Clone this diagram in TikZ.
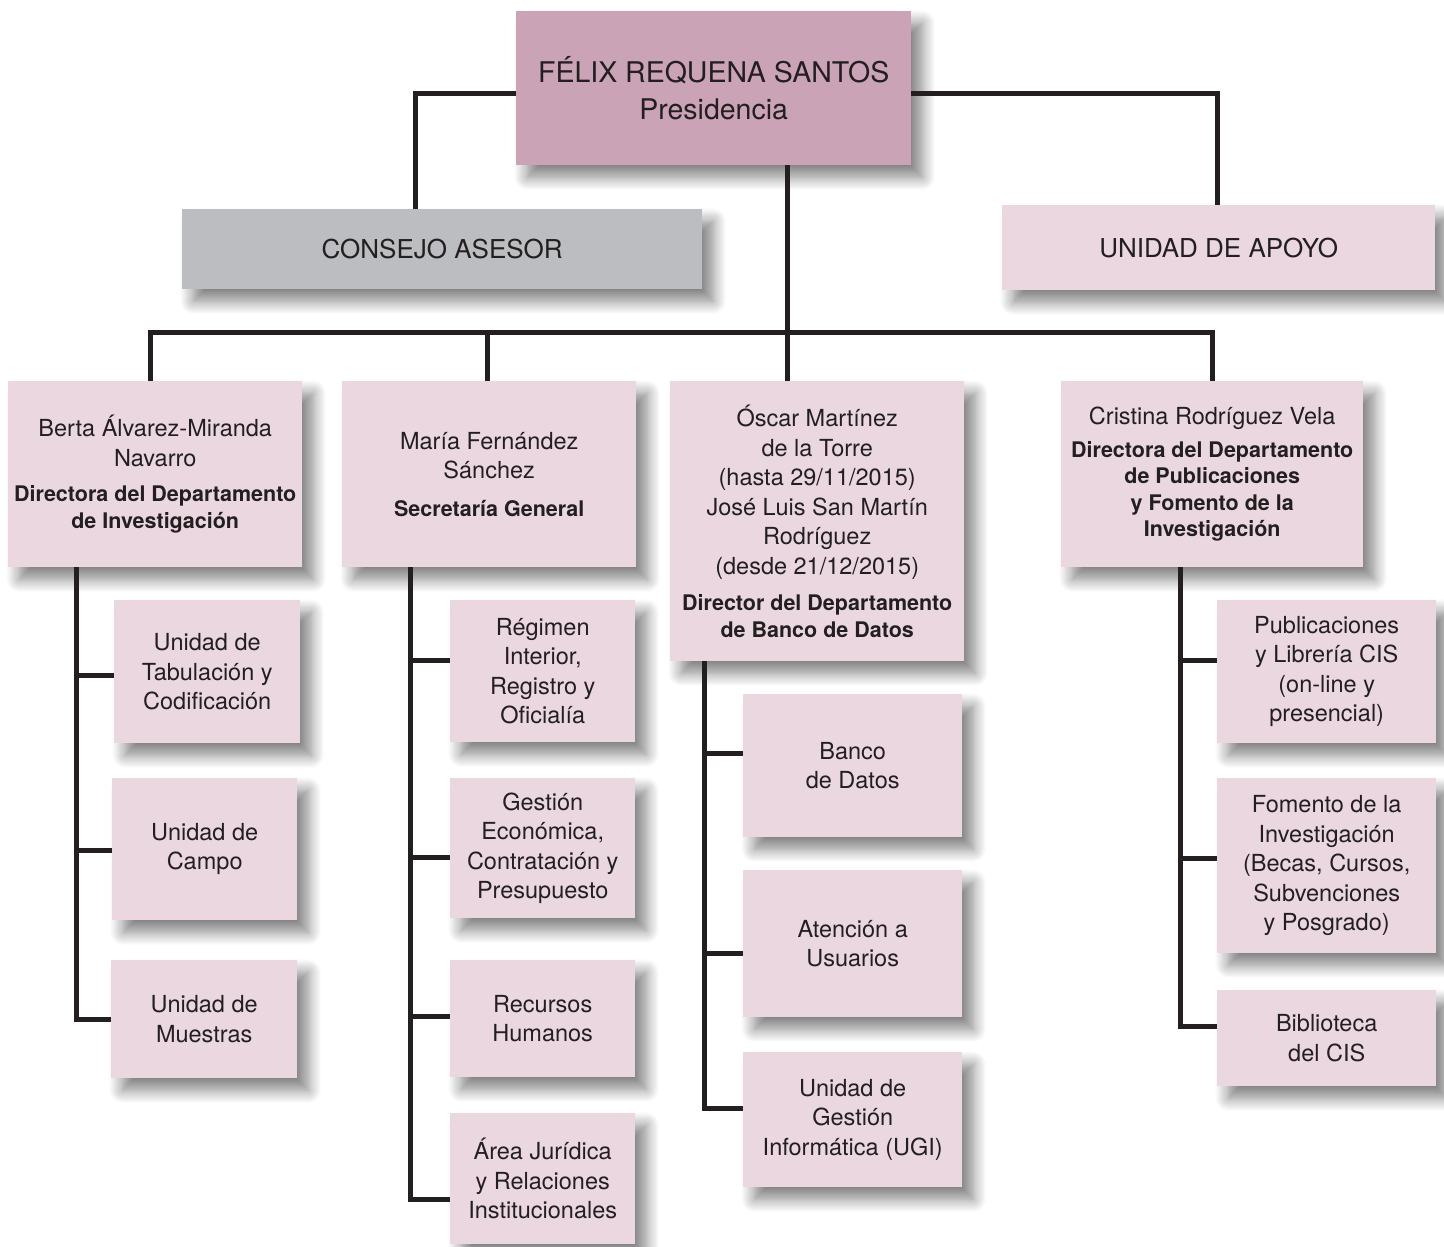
\documentclass[tikz,border=0pt]{standalone}
\usepackage{fontspec}
\setmainfont{TeX Gyre Heros}
\usetikzlibrary{shadows.blur}
\definecolor{pinkd}{HTML}{CBA3B7}
\definecolor{pinkl}{HTML}{EAD7E0}
\definecolor{grayb}{HTML}{BCBDC0}
\definecolor{txt}{HTML}{231F20}
\newcommand\fsreg{\fontsize{23.5}{29.5}\selectfont}
\newcommand\fsbold{\fontsize{21.5}{26}\selectfont\bfseries}
\newcommand\fstop{\fontsize{28.5}{37}\selectfont}
\newcommand\fsmid{\fontsize{26}{31}\selectfont}
\begin{document}
\begin{tikzpicture}[x=1pt,y=-1pt,
  orgbox/.style={rectangle, fill=pinkl, inner sep=0pt, align=center, text=txt,
    anchor=north west, font=\fsreg,
    blur shadow={shadow xshift=11pt, shadow yshift=-12pt, shadow blur radius=13pt, shadow blur steps=12, shadow opacity=50}},
  conn/.style={draw=txt, line width=5pt, line join=miter, line cap=butt}]
\useasboundingbox (0,0) rectangle (1444,1247);
% top level
\node[orgbox, fill=pinkd, font=\fstop, minimum width=395, minimum height=154] (pres) at (516,11) {FÉLIX REQUENA SANTOS\\Presidencia};
\node[orgbox, fill=grayb, font=\fsmid, minimum width=520, minimum height=80] (cons) at (182,209) {CONSEJO ASESOR};
\node[orgbox, font=\fsmid, minimum width=433, minimum height=85] (apoyo) at (1002,205) {UNIDAD DE APOYO};
% departments
\node[orgbox, minimum width=294, minimum height=186] (berta) at (8,381) {Berta Álvarez-Miranda\\Navarro\\[6pt]\fsbold Directora del Departamento\\[-3pt]\fsbold de Investigación};
\node[orgbox, minimum width=294, minimum height=186] (maria) at (342,381) {María Fernández\\Sánchez\\[8pt]\fsbold Secretaría General};
\node[orgbox, minimum width=294, minimum height=280] (oscar) at (670,381) {Óscar Martínez\\de la Torre\\(hasta 29/11/2015)\\José Luis San Martín\\Rodríguez\\(desde 21/12/2015)\\[7pt]\fsbold Director del Departamento\\[-3pt]\fsbold de Banco de Datos};
\node[orgbox, minimum width=302, minimum height=186] (cris) at (1061,381) {Cristina Rodríguez Vela\\[3pt]\fsbold Directora del Departamento\\[-3pt]\fsbold de Publicaciones\\[-3pt]\fsbold y Fomento de la\\[-3pt]\fsbold Investigación};
% units
\node[orgbox, minimum width=186, minimum height=143] (tab) at (114,600) {Unidad de\\Tabulación y\\Codificación};
\node[orgbox, minimum width=185, minimum height=142] (campo) at (112,778) {Unidad de\\Campo};
\node[orgbox, minimum width=186, minimum height=118] (muest) at (111,960) {Unidad de\\Muestras};
\node[orgbox, minimum width=185, minimum height=142] (reg) at (450,600) {Régimen\\Interior,\\Registro y\\Oficialía};
\node[orgbox, minimum width=185, minimum height=140] (gest) at (450,778) {Gestión\\Económica,\\Contratación y\\Presupuesto};
\node[orgbox, minimum width=185, minimum height=117] (recur) at (450,960) {Recursos\\Humanos};
\node[orgbox, minimum width=185, minimum height=131] (area) at (450,1113) {Área Jurídica\\y Relaciones\\Institucionales};
\node[orgbox, minimum width=219, minimum height=143] (banco) at (743,694) {Banco\\de Datos};
\node[orgbox, minimum width=219, minimum height=147] (aten) at (743,870) {Atención a\\Usuarios};
\node[orgbox, minimum width=219, minimum height=135] (ugi) at (743,1052) {Unidad de\\Gestión\\Informática (UGI)};
\node[orgbox, minimum width=219, minimum height=143] (pub) at (1217,600) {Publicaciones\\y Librería CIS\\(on-line y\\presencial)};
\node[orgbox, minimum width=219, minimum height=175] (fom) at (1217,778) {Fomento de la\\Investigación\\(Becas, Cursos,\\Subvenciones\\y Posgrado)};
\node[orgbox, minimum width=219, minimum height=96] (bib) at (1217,990) {Biblioteca\\del CIS};
% junction coordinates
\coordinate (jl) at (415,94);
\coordinate (jr) at (1217,94);
\coordinate (trunk) at (787,332);
\coordinate (dB) at (150,332);
\coordinate (dM) at (487,332);
\coordinate (dC) at (1212,332);
\coordinate (vB) at (76,0);
\coordinate (vM) at (410,0);
\coordinate (vO) at (704,0);
\coordinate (vC) at (1180,0);
% connectors top
\draw[conn] (jl -| pres.west) -- (jl) -- (jl |- cons.north);
\draw[conn] (jr -| pres.east) -- (jr) -- (jr |- apoyo.north);
\draw[conn] (pres.south -| trunk) -- (oscar.north -| trunk);
\draw[conn] (dB |- berta.north) -- (dB) -- (dC) -- (dC |- cris.north);
\draw[conn] (dM) -- (dM |- maria.north);
% Berta
\coordinate (bTab) at (76,675);
\coordinate (bCampo) at (76,850);
\coordinate (bMuest) at (76,1019);
\draw[conn] (berta.south -| vB) -- (bMuest) -- (bMuest -| muest.west);
\draw[conn] (bTab) -- (bTab -| tab.west);
\draw[conn] (bCampo) -- (bCampo -| campo.west);
% Maria
\coordinate (bReg) at (410,660);
\coordinate (bGest) at (410,857);
\coordinate (bRecur) at (410,1016);
\coordinate (bArea) at (410,1199);
\draw[conn] (maria.south -| vM) -- (bArea) -- (bArea -| area.west);
\draw[conn] (bReg) -- (bReg -| reg.west);
\draw[conn] (bGest) -- (bGest -| gest.west);
\draw[conn] (bRecur) -- (bRecur -| recur.west);
% Oscar
\coordinate (bBanco) at (704,753);
\coordinate (bAten) at (704,953);
\coordinate (bUgi) at (704,1108);
\draw[conn] (oscar.south -| vO) -- (bUgi) -- (bUgi -| ugi.west);
\draw[conn] (bBanco) -- (bBanco -| banco.west);
\draw[conn] (bAten) -- (bAten -| aten.west);
% Cristina
\coordinate (bPub) at (1180,660);
\coordinate (bFom) at (1180,858);
\coordinate (bBib) at (1180,1026);
\draw[conn] (cris.south -| vC) -- (bBib) -- (bBib -| bib.west);
\draw[conn] (bPub) -- (bPub -| pub.west);
\draw[conn] (bFom) -- (bFom -| fom.west);
\end{tikzpicture}
\end{document}
